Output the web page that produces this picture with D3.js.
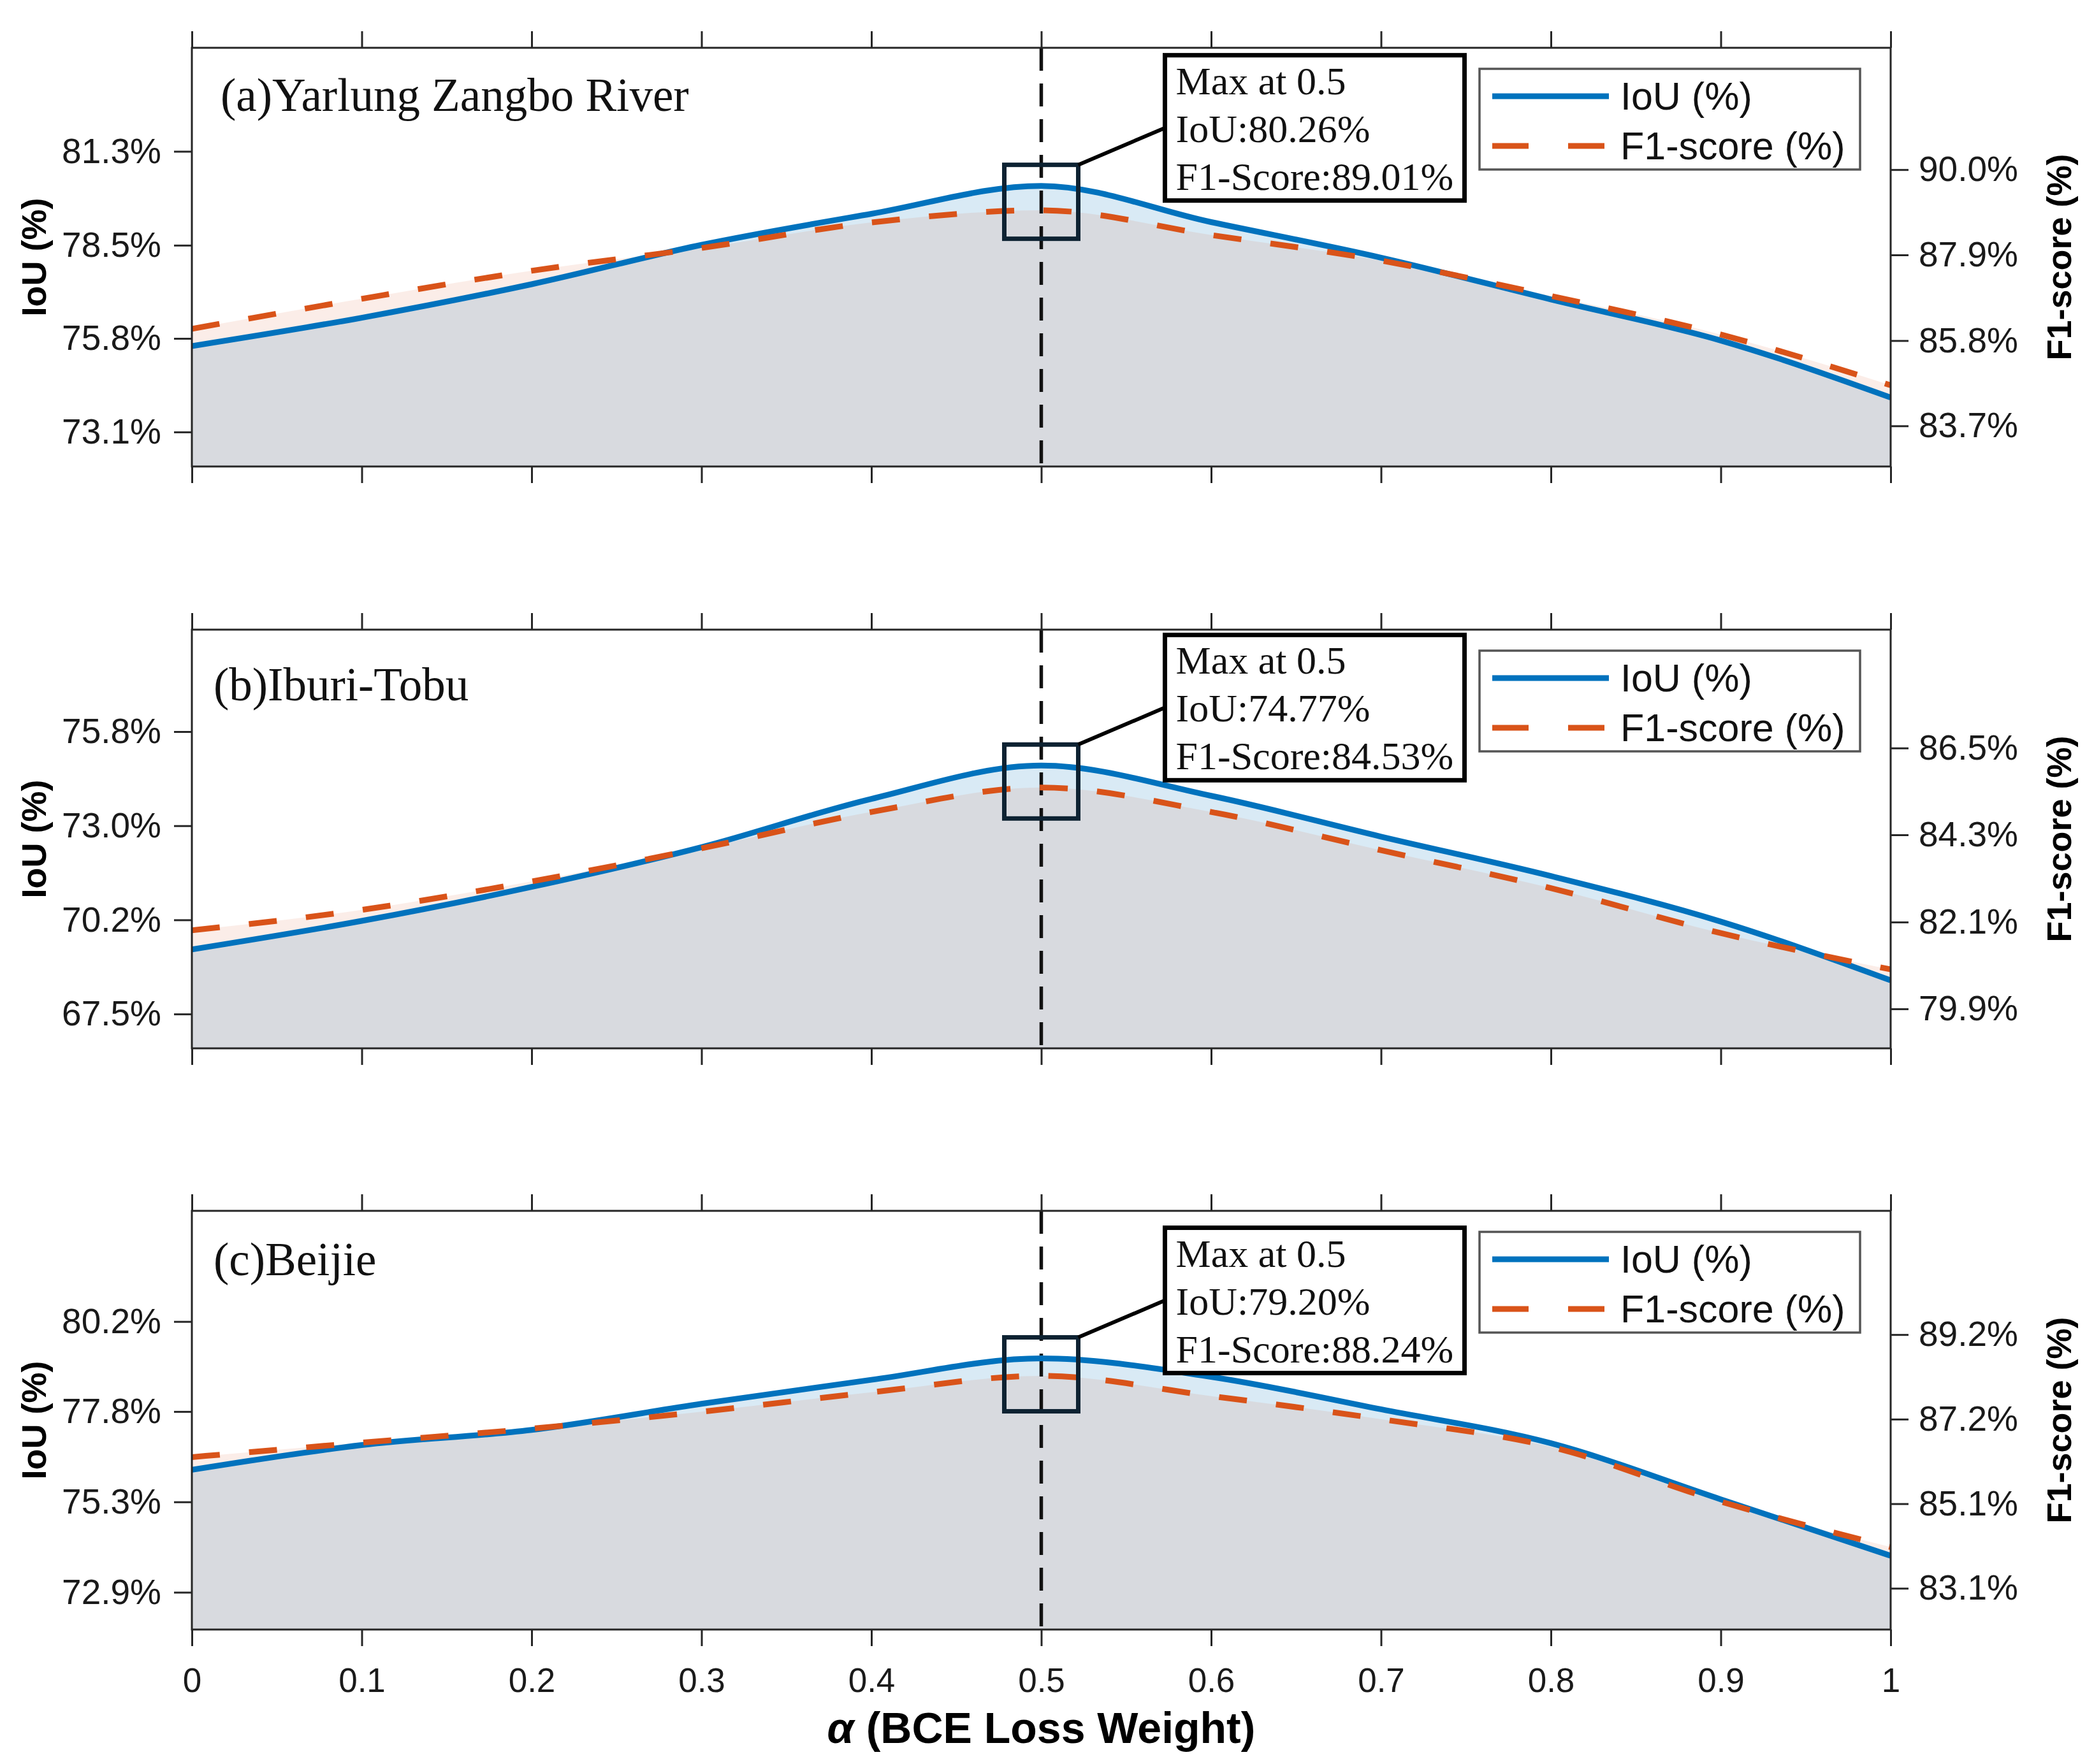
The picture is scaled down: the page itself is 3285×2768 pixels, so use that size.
<!DOCTYPE html>
<html lang="en">

<head>
  <meta charset="UTF-8" />
  <title>IoU and F1-score vs alpha</title>
  <script src="https://d3js.org/d3.v7.min.js"></script>
  <style>
    body { margin: 0; background: #fff; }
  </style>
</head>

<body>
  <div id="graph-space"></div>
</body>
<script>
  // Data
  const alphas = [0, 0.1, 0.2, 0.3, 0.4, 0.5, 0.6, 0.7, 0.8, 0.9, 1];
  const panelNames = ["(a)Yarlung Zangbo River", "(b)Iburi-Tobu", "(c)Beijie"];

  const iouYarlung = [75.62, 76.44, 77.41, 78.55, 79.45, 80.26, 79.21, 78.18, 76.97, 75.78, 74.13];
  const f1Yarlung = [86.09, 86.83, 87.52, 88.08, 88.71, 89.01, 88.40, 87.77, 86.90, 85.95, 84.70];
  const iouIburi = [69.36, 70.20, 71.20, 72.37, 73.79, 74.77, 73.88, 72.68, 71.52, 70.18, 68.45];
  const f1Iburi = [81.90, 82.42, 83.14, 83.98, 84.90, 85.52, 84.90, 83.93, 82.97, 81.83, 80.91];
  const iouBeijie = [76.18, 76.85, 77.26, 77.97, 78.62, 79.20, 78.70, 77.82, 76.90, 75.38, 73.85];
  const f1Beijie = [86.27, 86.62, 86.96, 87.37, 87.84, 88.24, 87.75, 87.19, 86.52, 85.19, 84.09];

  // axis limits and ticks
  const iouDomains = [[72.13, 84.26], [66.45, 78.77], [71.85, 83.20]];
  const f1Domains = [[82.70, 93.01], [78.91, 89.52], [82.09, 92.24]];
  const iouTicks = [[73.13, 75.84, 78.54, 81.26], [67.46, 70.23, 73.00, 75.77], [72.86, 75.31, 77.76, 80.20]];
  const f1Ticks = [[83.70, 85.80, 87.91, 90.01], [79.91, 82.11, 84.32, 86.52], [83.09, 85.14, 87.19, 89.24]];
  const xTicks = [0, 0.1, 0.2, 0.3, 0.4, 0.5, 0.6, 0.7, 0.8, 0.9, 1];

  // annotation text
  const peakAlpha = 0.5;
  const peakIoUText = ["80.26", "74.77", "79.20"];
  const peakF1Text = ["89.01", "84.53", "88.24"];
  const legendLabels = ["IoU (%)", "F1-score (%)"];

  const series = [[iouYarlung, f1Yarlung], [iouIburi, f1Iburi], [iouBeijie, f1Beijie]];

  // Layout
  const width = 3285
  const height = 2768
  const xLeft = 301
  const xRight = 2966
  const panelTops = [75, 988, 1900]
  const panelHeight = 657
  const titlePos = [{ x: 346, dy: 99 }, { x: 335, dy: 111 }, { x: 335, dy: 101 }]

  const sans = "'Liberation Sans', Arial, sans-serif"
  const serif = "'Liberation Serif', 'Times New Roman', serif"
  const axisColor = "#262626"
  const blue = "#0072BD"
  const orange = "#D95319"

  const svg = d3.select("#graph-space")
    .append("svg")
    .attr("width", width)
    .attr("height", height)
    .style("background", "#fff")

  const xScale = d3.scaleLinear().domain([0, 1]).range([xLeft, xRight])
  const pct = d => d3.format(".1f")(d) + "%"

  function styleAxis(g, size) {
    g.select(".domain").remove()
    g.selectAll(".tick line").attr("stroke", axisColor).attr("stroke-width", 3)
    g.selectAll(".tick text")
      .attr("fill", "#1a1a1a")
      .style("font-family", sans)
      .style("font-size", size + "px")
  }

  series.forEach(([iou, f1], i) => {
    const top = panelTops[i]
    const bottom = top + panelHeight
    const yL = d3.scaleLinear().domain(iouDomains[i]).range([bottom, top])
    const yR = d3.scaleLinear().domain(f1Domains[i]).range([bottom, top])
    const g = svg.append("g")

    svg.append("clipPath").attr("id", "clip" + i)
      .append("rect")
      .attr("x", xLeft).attr("y", top)
      .attr("width", xRight - xLeft).attr("height", panelHeight)

    const plot = g.append("g").attr("clip-path", `url(#clip${i})`)
    const iouPts = d3.zip(alphas, iou)
    const f1Pts = d3.zip(alphas, f1)

    // shaded areas under both curves
    plot.append("path").datum(iouPts)
      .attr("d", d3.area().x(d => xScale(d[0])).y0(bottom).y1(d => yL(d[1])).curve(d3.curveMonotoneX))
      .attr("fill", blue).attr("fill-opacity", 0.15)
    plot.append("path").datum(f1Pts)
      .attr("d", d3.area().x(d => xScale(d[0])).y0(bottom).y1(d => yR(d[1])).curve(d3.curveMonotoneX))
      .attr("fill", orange).attr("fill-opacity", 0.1)

    // dashed line at the best alpha
    const px = xScale(peakAlpha)
    plot.append("line")
      .attr("x1", px).attr("x2", px).attr("y1", top).attr("y2", bottom)
      .attr("stroke", "#111").attr("stroke-width", 5.5).attr("stroke-dasharray", "36 20")

    plot.append("path").datum(iouPts)
      .attr("d", d3.line().x(d => xScale(d[0])).y(d => yL(d[1])).curve(d3.curveMonotoneX))
      .attr("fill", "none").attr("stroke", blue).attr("stroke-width", 9)
    plot.append("path").datum(f1Pts)
      .attr("d", d3.line().x(d => xScale(d[0])).y(d => yR(d[1])).curve(d3.curveMonotoneX))
      .attr("fill", "none").attr("stroke", orange).attr("stroke-width", 9)
      .attr("stroke-dasharray", "44 46")

    // axes
    g.append("g").attr("transform", `translate(${xLeft},0)`)
      .call(d3.axisLeft(yL).tickValues(iouTicks[i]).tickFormat(pct).tickSize(28).tickPadding(20))
      .call(a => styleAxis(a, 55))
    g.append("g").attr("transform", `translate(${xRight},0)`)
      .call(d3.axisRight(yR).tickValues(f1Ticks[i]).tickFormat(pct).tickSize(28).tickPadding(16))
      .call(a => styleAxis(a, 55))
    g.append("g").attr("transform", `translate(0,${top})`)
      .call(d3.axisTop(xScale).tickValues(xTicks).tickFormat("").tickSize(26))
      .call(a => styleAxis(a, 52))
    g.append("g").attr("transform", `translate(0,${bottom})`)
      .call(d3.axisBottom(xScale).tickValues(xTicks).tickSize(26).tickPadding(34)
        .tickFormat(i === series.length - 1 ? d => String(d) : ""))
      .call(a => styleAxis(a, 53))

    g.append("rect")
      .attr("x", xLeft).attr("y", top)
      .attr("width", xRight - xLeft).attr("height", panelHeight)
      .attr("fill", "none").attr("stroke", axisColor).attr("stroke-width", 3)

    // panel title
    g.append("text")
      .attr("x", titlePos[i].x).attr("y", top + titlePos[i].dy)
      .style("font-family", serif).style("font-size", "73px")
      .attr("fill", "#111")
      .text(panelNames[i])

    // y labels
    const mid = top + panelHeight / 2
    g.append("text")
      .attr("transform", `translate(53,${mid}) rotate(-90)`)
      .attr("text-anchor", "middle").attr("dy", "0.35em")
      .style("font-family", sans).style("font-size", "54px").style("font-weight", "bold")
      .text("IoU (%)")
    g.append("text")
      .attr("transform", `translate(3230,${mid}) rotate(-90)`)
      .attr("text-anchor", "middle").attr("dy", "0.35em")
      .style("font-family", sans).style("font-size", "54px").style("font-weight", "bold")
      .text("F1-score (%)")

    // highlight box on the peak and the callout
    const peakIdx = alphas.indexOf(peakAlpha)
    const peakY = yL(iou[peakIdx])
    const boxHalf = 58
    g.append("rect")
      .attr("x", px - boxHalf).attr("y", peakY - 33)
      .attr("width", boxHalf * 2).attr("height", boxHalf * 2)
      .attr("fill", "none").attr("stroke", "#0d2232").attr("stroke-width", 7)

    const annX = px + 194
    const annY = peakY - 205
    const annW = 470
    const annH = 228
    g.append("line")
      .attr("x1", px + boxHalf).attr("y1", peakY - 33)
      .attr("x2", annX).attr("y2", annY + annH / 2)
      .attr("stroke", "#000").attr("stroke-width", 6)
    g.append("rect")
      .attr("x", annX).attr("y", annY).attr("width", annW).attr("height", annH)
      .attr("fill", "#fff").attr("stroke", "#000").attr("stroke-width", 7)
    const annLines = ["Max at " + peakAlpha, "IoU:" + peakIoUText[i] + "%", "F1-Score:" + peakF1Text[i] + "%"]
    g.selectAll(".ann").data(annLines).join("text")
      .attr("x", annX + 17)
      .attr("y", (d, k) => annY + 61 + k * 75)
      .style("font-family", serif).style("font-size", "62px")
      .attr("fill", "#111")
      .text(d => d)

    // legend
    const lx = 2321
    const ly = top + 33
    g.append("rect")
      .attr("x", lx).attr("y", ly).attr("width", 597).attr("height", 158)
      .attr("fill", "#fff").attr("stroke", "#555").attr("stroke-width", 3.5)
    legendLabels.forEach((lab, k) => {
      const yy = ly + 43 + k * 78
      g.append("line")
        .attr("x1", lx + 20).attr("x2", lx + 203).attr("y1", yy).attr("y2", yy)
        .attr("stroke", k === 0 ? blue : orange).attr("stroke-width", 9)
        .attr("stroke-dasharray", k === 0 ? null : "57 62")
      g.append("text")
        .attr("x", lx + 221).attr("y", yy).attr("dy", "0.35em")
        .style("font-family", sans).style("font-size", "61px")
        .attr("fill", "#111")
        .text(lab)
    })
  })

  // x axis title
  const xTitle = svg.append("text")
    .attr("x", (xLeft + xRight) / 2).attr("y", 2735)
    .attr("text-anchor", "middle")
    .style("font-family", sans).style("font-size", "68px").style("font-weight", "bold")
  xTitle.append("tspan").style("font-style", "italic").text("α")
  xTitle.append("tspan").text(" (BCE Loss Weight)")
</script>

</html>
